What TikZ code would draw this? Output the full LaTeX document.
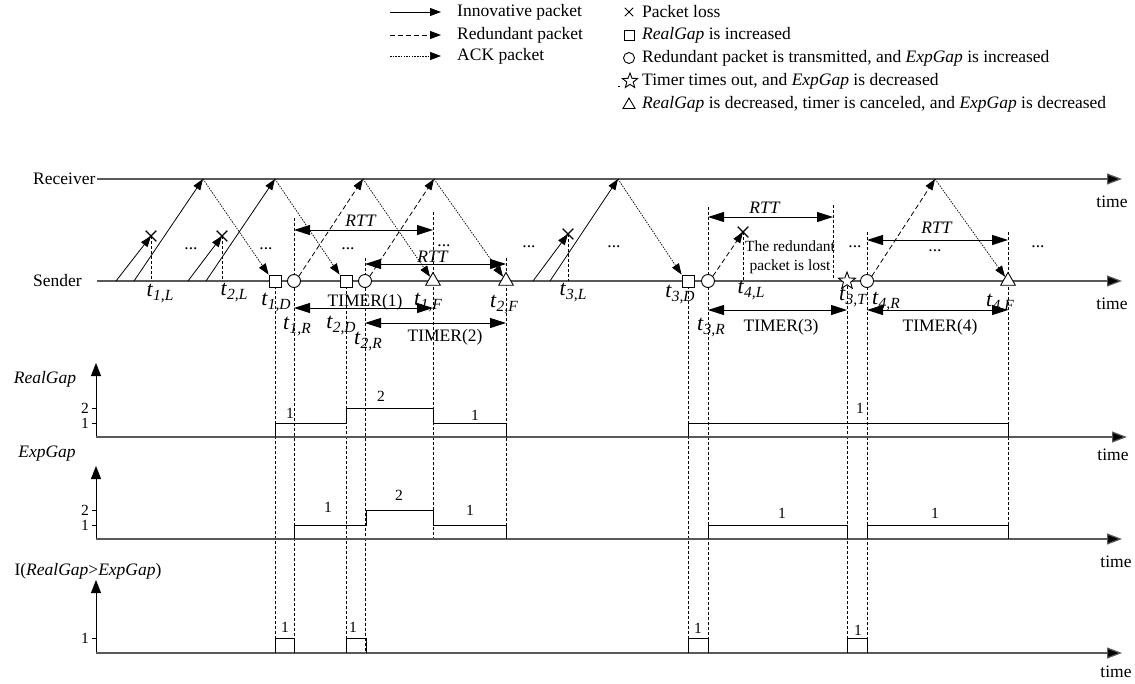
\documentclass[tikz,border=0pt]{standalone}
\usepackage{fontspec}
\setmainfont{Liberation Serif}
\usetikzlibrary{arrows.meta,shapes.geometric,shapes.misc}
\newcommand\mainfs{\fontsize{17.5}{21}\selectfont}
\newcommand\smallfs{\fontsize{15.5}{19}\selectfont}
\newcommand\tickfs{\fontsize{15.5}{18}\selectfont}
\newcommand\tlab[1]{{\fontsize{22}{22}\selectfont\textit{t}}\raisebox{-4pt}{\fontsize{15.5}{16}\selectfont\textit{#1}}}
\begin{document}
\begin{tikzpicture}[x=1pt,y=-1pt,
  every node/.style={inner sep=0pt,font=\mainfs},
  innov/.style={line width=0.8pt,-{Triangle[length=11pt,width=8pt]}},
  redun/.style={line width=0.8pt,dash pattern=on 5pt off 3pt,-{Triangle[length=11pt,width=8pt]}},
  ack/.style={line width=0.7pt,dash pattern=on 1.5pt off 1.2pt,-{Triangle[length=11pt,width=8pt]}},
  guide/.style={line width=0.7pt,dash pattern=on 3pt off 2pt},
  axis/.style={line width=1.2pt,draw=black!65,-{Triangle[length=15pt,width=11pt,fill=black]}},
  yaxis/.style={line width=1pt,-{Triangle[length=13pt,width=10pt]}},
  span/.style={line width=1pt,{Triangle[length=16pt,width=10pt]}-{Triangle[length=16pt,width=10pt]}},
  stepline/.style={line width=0.9pt},
  sq/.style={draw,fill=white,rectangle,minimum size=12pt,line width=0.9pt},
  circ/.style={draw,fill=white,circle,minimum size=13pt,line width=0.9pt},
  tri/.style={draw,fill=white,regular polygon,regular polygon sides=3,minimum size=17pt,line width=0.9pt},
  strs/.style={draw,fill=white,star,star points=5,star point ratio=2.4,minimum size=18pt,line width=0.9pt},
  lossmark/.style={draw,cross out,minimum size=9.5pt,line width=1.2pt},
  tk/.style={font=\tickfs}
]
\useasboundingbox (0,0) rectangle (1135,683);

% ---------------- legend ----------------
\coordinate (la1) at (390,12); \coordinate (lb1) at (441,12);
\coordinate (la2) at (390,35); \coordinate (lb2) at (441,35);
\coordinate (la3) at (390,56); \coordinate (lb3) at (441,56);
\draw[innov] (la1) -- (lb1);
\draw[redun] (la2) -- (lb2);
\draw[ack] (la3) -- (lb3);
\node[anchor=west] (lt1) at (457,12) {Innovative packet};
\node[anchor=west] (lt2) at (457,35) {Redundant packet};
\node[anchor=west] (lt3) at (457,56) {ACK packet};

\node[lossmark,minimum size=7.5pt,line width=0.9pt] (ls1) at (629,12) {};
\node[sq,minimum size=10pt] (ls2) at (629,35) {};
\node[circ,minimum size=11pt] (ls3) at (629,58) {};
\node[strs,minimum size=16pt] (ls4) at (630,81) {};
\node[tri,minimum size=14pt] (ls5) at (629,105) {};
\draw[line width=0.8pt] (618,86) -- (620,86);
\node[anchor=west] (rt1) at (642,12) {Packet loss};
\node[anchor=west] (rt2) at (642,35) {\textit{RealGap} is increased};
\node[anchor=west] (rt3) at (642,58) {Redundant packet is transmitted, and \textit{ExpGap} is increased};
\node[anchor=west] (rt4) at (642,81) {Timer times out, and \textit{ExpGap} is decreased};
\node[anchor=west] (rt5) at (642,104) {\textit{RealGap} is decreased, timer is canceled, and \textit{ExpGap} is decreased};

% ---------------- positions ----------------
\coordinate (D1) at (275,281); \coordinate (C1) at (294,281);
\coordinate (D2) at (346,281); \coordinate (C2) at (365,281);
\coordinate (F1) at (433,281); \coordinate (F2) at (506,281);
\coordinate (D3) at (688,281); \coordinate (C3) at (708,281);
\coordinate (T3) at (847,281); \coordinate (C4) at (867,281);
\coordinate (F4) at (1008,281);
\coordinate (gI) at (0,653); \coordinate (gE) at (0,539);

% ---------------- guides ----------------
\draw[guide] (D1) -- (D1 |- gI);
\draw[guide] (294,218) -- (C1 |- gI);
\draw[guide] (D2) -- (D2 |- gI);
\draw[guide] (365,258) -- (C2 |- gI);
\draw[guide] (433,212) -- (F1 |- gE);
\draw[guide] (506,258) -- (F2 |- gE);
\draw[guide] (D3) -- (D3 |- gI);
\draw[guide] (708,207) -- (C3 |- gI);
\draw[guide] (833,205) -- (833,281);
\draw[guide] (T3) -- (T3 |- gI);
\draw[guide] (867,232) -- (C4 |- gI);
\draw[guide] (1008,232) -- (F4 |- gE);

% ---------------- timelines ----------------
\node[anchor=west] (recv) at (33,179) {Receiver};
\node[anchor=west] (send) at (33,281) {Sender};
\coordinate (rend) at (1122,179);
\coordinate (send2) at (1122,281);
\draw[axis] (97,179) -- (rend);
\draw[axis] (97,281) -- (send2);
\node (tm1) at (1112,202) {time};
\node (tm2) at (1112,304) {time};

% receiver hit points
\coordinate (h1) at (203,179);
\coordinate (h2) at (275,179);
\coordinate (h3) at (363,179);
\coordinate (h4) at (434,179);
\coordinate (h5) at (618,179);
\coordinate (h6) at (935,179);
% send points
\coordinate (s1) at (116,281); \coordinate (s2) at (134,281);
\coordinate (s3) at (188,281); \coordinate (s4) at (206,281);
\coordinate (s5) at (533,281); \coordinate (s6) at (550,281);

% losses
\node[lossmark] (x1) at (151,236) {};
\node[lossmark] (x2) at (222,236) {};
\node[lossmark] (x3) at (568,234) {};
\node[lossmark] (x4) at (743,232) {};
\draw[guide] (x1.center) -- (x1 |- D1);
\draw[guide] (x2.center) -- (x2 |- D1);
\draw[guide] (x3.center) -- (x3 |- D1);
\draw[guide] (x4.center) -- (x4 |- D1);

% innovative packets
\draw[innov] (s1) -- (x1.center);
\draw[innov] (s2) -- (h1);
\draw[innov] (s3) -- (x2.center);
\draw[innov] (s4) -- (h2);
\draw[innov] (s5) -- (x3.center);
\draw[innov] (s6) -- (h5);

% symbols
\node[sq] (d1) at (D1) {};
\node[circ] (c1) at (C1) {};
\node[sq] (d2) at (D2) {};
\node[circ] (c2) at (C2) {};
\node[tri] (f1) at (F1) {};
\node[tri] (f2) at (F2) {};
\node[sq] (d3) at (D3) {};
\node[circ] (c3) at (C3) {};
\node[strs] (t3) at (T3) {};
\node[circ] (c4) at (C4) {};
\node[tri] (f4) at (F4) {};

% ACKs
\draw[ack] (h1) -- (d1.north west);
\draw[ack] (h2) -- (d2.north west);
\draw[ack] (h3) -- (f1.125);
\draw[ack] (h4) -- (f2.125);
\draw[ack] (h5) -- (d3.north west);
\draw[ack] (h6) -- (f4.125);

% redundant
\draw[redun] (c1.45) -- (h3);
\draw[redun] (c2.45) -- (h4);
\draw[redun] (c3.45) -- (x4.center);
\draw[redun] (c4.45) -- (h6);

% RTT spans
\coordinate (r1a) at (294,230); \coordinate (r1b) at (433,230);
\coordinate (r2a) at (365,264); \coordinate (r2b) at (506,264);
\coordinate (r3a) at (708,217); \coordinate (r3b) at (833,217);
\coordinate (r4a) at (867,240); \coordinate (r4b) at (1008,240);
\draw[span] (r1a) -- (r1b);
\draw[span] (r2a) -- (r2b);
\draw[span] (r3a) -- (r3b);
\draw[span] (r4a) -- (r4b);
\node (rtt1) at (361,221) {\textit{RTT}};
\node (rtt2) at (433,257) {\textit{RTT}};
\node (rtt3) at (765,208) {\textit{RTT}};
\node (rtt4) at (937,228) {\textit{RTT}};

% timers
\coordinate (m1a) at (294,308); \coordinate (m1b) at (433,308);
\coordinate (m2a) at (365,323); \coordinate (m2b) at (506,323);
\coordinate (m3a) at (708,310); \coordinate (m3b) at (847,310);
\coordinate (m4a) at (867,310); \coordinate (m4b) at (1008,310);
\draw[span] (m1a) -- (m1b);
\draw[span] (m2a) -- (m2b);
\draw[span] (m3a) -- (m3b);
\draw[span] (m4a) -- (m4b);
\node (tim1) at (365,302) {TIMER(1)};
\node (tim2) at (445,337) {TIMER(2)};
\node (tim3) at (781,327) {TIMER(3)};
\node (tim4) at (940,327) {TIMER(4)};

% dots
\foreach \xx/\yy [count=\i] in {191/249,266/249,348/249,444/246,529/247,614/247,855/247,935/251,1038/247}
  \node (dots\i) at (\xx,\yy) {...};

% note
\node[font=\smallfs,align=center] (lostnote) at (790,257) {The redundant\\packet is lost};

% time labels
\node (l1L) at (160,293) {\tlab{1,L}};
\node (l2L) at (234,292) {\tlab{2,L}};
\node (l1D) at (276,302) {\tlab{1,D}};
\node (l1R) at (297,326) {\tlab{1,R}};
\node (l2D) at (341,325) {\tlab{2,D}};
\node (l2R) at (368,341) {\tlab{2,R}};
\node (l1F) at (428,302) {\tlab{1,F}};
\node (l2F) at (504,304) {\tlab{2,F}};
\node (l3L) at (573,292) {\tlab{3,L}};
\node (l3D) at (680,294) {\tlab{3,D}};
\node (l3R) at (711,327) {\tlab{3,R}};
\node (l4L) at (751,290) {\tlab{4,L}};
\node (l3T) at (853,297) {\tlab{3,T}};
\node (l4R) at (886,301) {\tlab{4,R}};
\node (l4F) at (1000,303) {\tlab{4,F}};

% ---------------- RealGap chart ----------------
\node (lrg) at (45,379) {\textit{RealGap}};
\coordinate (ro) at (96,437); \coordinate (rt) at (96,363); \coordinate (rx) at (1127,437);
\draw[yaxis] (ro) -- (rt);
\draw[axis] (ro) -- (rx);
\node (tm3) at (1113,455) {time};
\draw[line width=0.8pt] (92,408) -- (96,408);
\draw[line width=0.8pt] (92,423) -- (96,423);
\node[tk,anchor=east] (rk2) at (89,408) {2};
\node[tk,anchor=east] (rk1) at (89,423) {1};
\draw[stepline] (275,437) |- (346,423) |- (433,408) |- (506,423) -- (506,437);
\draw[stepline] (688,437) |- (1008,423) -- (1008,437);
\node[tk] (rv1) at (290,413) {1};
\node[tk] (rv2) at (381,396) {2};
\node[tk] (rv3) at (475,415) {1};
\node[tk] (rv4) at (860,408) {1};

% ---------------- ExpGap chart ----------------
\node (leg) at (47,454) {\textit{ExpGap}};
\coordinate (eo) at (96,539); \coordinate (et) at (96,466); \coordinate (ex) at (1122,539);
\draw[yaxis] (eo) -- (et);
\draw[axis] (eo) -- (ex);
\node (tm4) at (1116,562) {time};
\draw[line width=0.8pt] (92,510) -- (96,510);
\draw[line width=0.8pt] (92,525) -- (96,525);
\node[tk,anchor=east] (ek2) at (89,510) {2};
\node[tk,anchor=east] (ek1) at (89,525) {1};
\draw[stepline] (294,539) |- (366,525) |- (433,510) |- (506,525) -- (506,539);
\draw[stepline] (708,539) |- (847,525) -- (847,539);
\draw[stepline] (867,539) |- (1008,525) -- (1008,539);
\node[tk] (ev1) at (328,507) {1};
\node[tk] (ev2) at (399,495) {2};
\node[tk] (ev3) at (470,510) {1};
\node[tk] (ev4) at (782,513) {1};
\node[tk] (ev5) at (935,513) {1};

% ---------------- indicator chart ----------------
\node (lin) at (88,571) {I(\textit{RealGap}>\textit{ExpGap})};
\coordinate (io) at (96,653); \coordinate (it) at (96,580); \coordinate (ix) at (1122,653);
\draw[yaxis] (io) -- (it);
\draw[axis] (io) -- (ix);
\node (tm5) at (1116,672) {time};
\draw[line width=0.8pt] (92,638) -- (96,638);
\node[tk,anchor=east] (ik1) at (89,638) {1};
\draw[stepline] (275,653) |- (294,638) -- (294,653);
\draw[stepline] (346,653) |- (366,638) -- (366,653);
\draw[stepline] (688,653) |- (708,638) -- (708,653);
\draw[stepline] (847,653) |- (867,638) -- (867,653);
\node[tk] (iv1) at (285,627) {1};
\node[tk] (iv2) at (353,627) {1};
\node[tk] (iv3) at (698,628) {1};
\node[tk] (iv4) at (858,630) {1};
\end{tikzpicture}
\end{document}
